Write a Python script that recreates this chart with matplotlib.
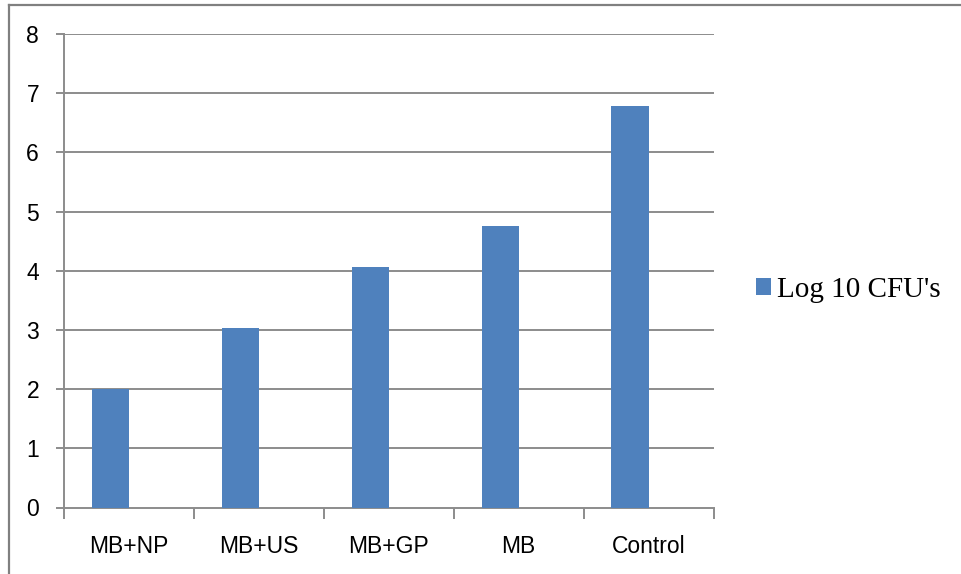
import matplotlib
matplotlib.use("Agg")
import matplotlib.pyplot as plt
from matplotlib.lines import Line2D
from matplotlib.patches import Patch
import numpy as np

categories = ["MB+NP", "MB+US", "MB+GP", "MB", "Control"]
log10_cfu = [2.0, 3.04, 4.07, 4.75, 6.78]
series_name = "Log 10 CFU's"
y_ticks = [0, 1, 2, 3, 4, 5, 6, 7, 8]

bar_color = "#4F81BD"
grid_color = "#8C8C8C"

W, H = 961, 574
fig = plt.figure(figsize=(W / 100, H / 100), dpi=100)
ax = fig.add_axes([64 / W, 1 - 507.5 / H, (713.5 - 64) / W, (507.5 - 34) / H])

x = np.arange(len(categories))
bar_w = 1 / 3.5  # two series slots, 150% gap
ax.bar(x - bar_w / 2, log10_cfu, width=bar_w, color=bar_color, zorder=3)

ax.set_xlim(-0.5, len(categories) - 0.5)
ax.set_ylim(0, 8)
ax.set_yticks(y_ticks)
ax.set_yticklabels([str(t) for t in y_ticks], fontfamily="Liberation Sans", fontsize=16.5)
ax.set_xticks(x)
ax.set_xticklabels(categories, fontfamily="Liberation Sans", fontsize=16.5)
ax.set_xticks(np.arange(-0.5, len(categories)), minor=True)

ax.tick_params(axis="x", which="major", length=0, pad=20)
ax.tick_params(axis="x", which="minor", length=8, width=1.4, color=grid_color, direction="out")
ax.tick_params(axis="y", which="major", length=6, width=1.4, color=grid_color, direction="out", pad=12)

for v in y_ticks[1:]:
    ax.axhline(v, color=grid_color, lw=1.4, zorder=1)

for side in ("top", "right"):
    ax.spines[side].set_visible(False)
for side in ("left", "bottom"):
    ax.spines[side].set_color(grid_color)
    ax.spines[side].set_linewidth(1.4)

handle = Patch(facecolor=bar_color, edgecolor="none")
fig.legend([handle], [series_name], loc="center left",
           bbox_to_anchor=(756 / W, 1 - 290 / H), frameon=False,
           prop={"family": "Liberation Serif", "size": 21},
           handlelength=0.52, handleheight=0.52, handletextpad=0.2,
           borderaxespad=0, borderpad=0)

# outer frame lines (top and left)
fig.add_artist(Line2D([8.5 / W, 1.0], [1 - 5 / H, 1 - 5 / H], color="#808080", lw=1.6,
                      transform=fig.transFigure))
fig.add_artist(Line2D([8.5 / W, 8.5 / W], [0, 1 - 5 / H], color="#808080", lw=1.6,
                      transform=fig.transFigure))

fig.savefig("out.png", dpi=100, facecolor="white")
